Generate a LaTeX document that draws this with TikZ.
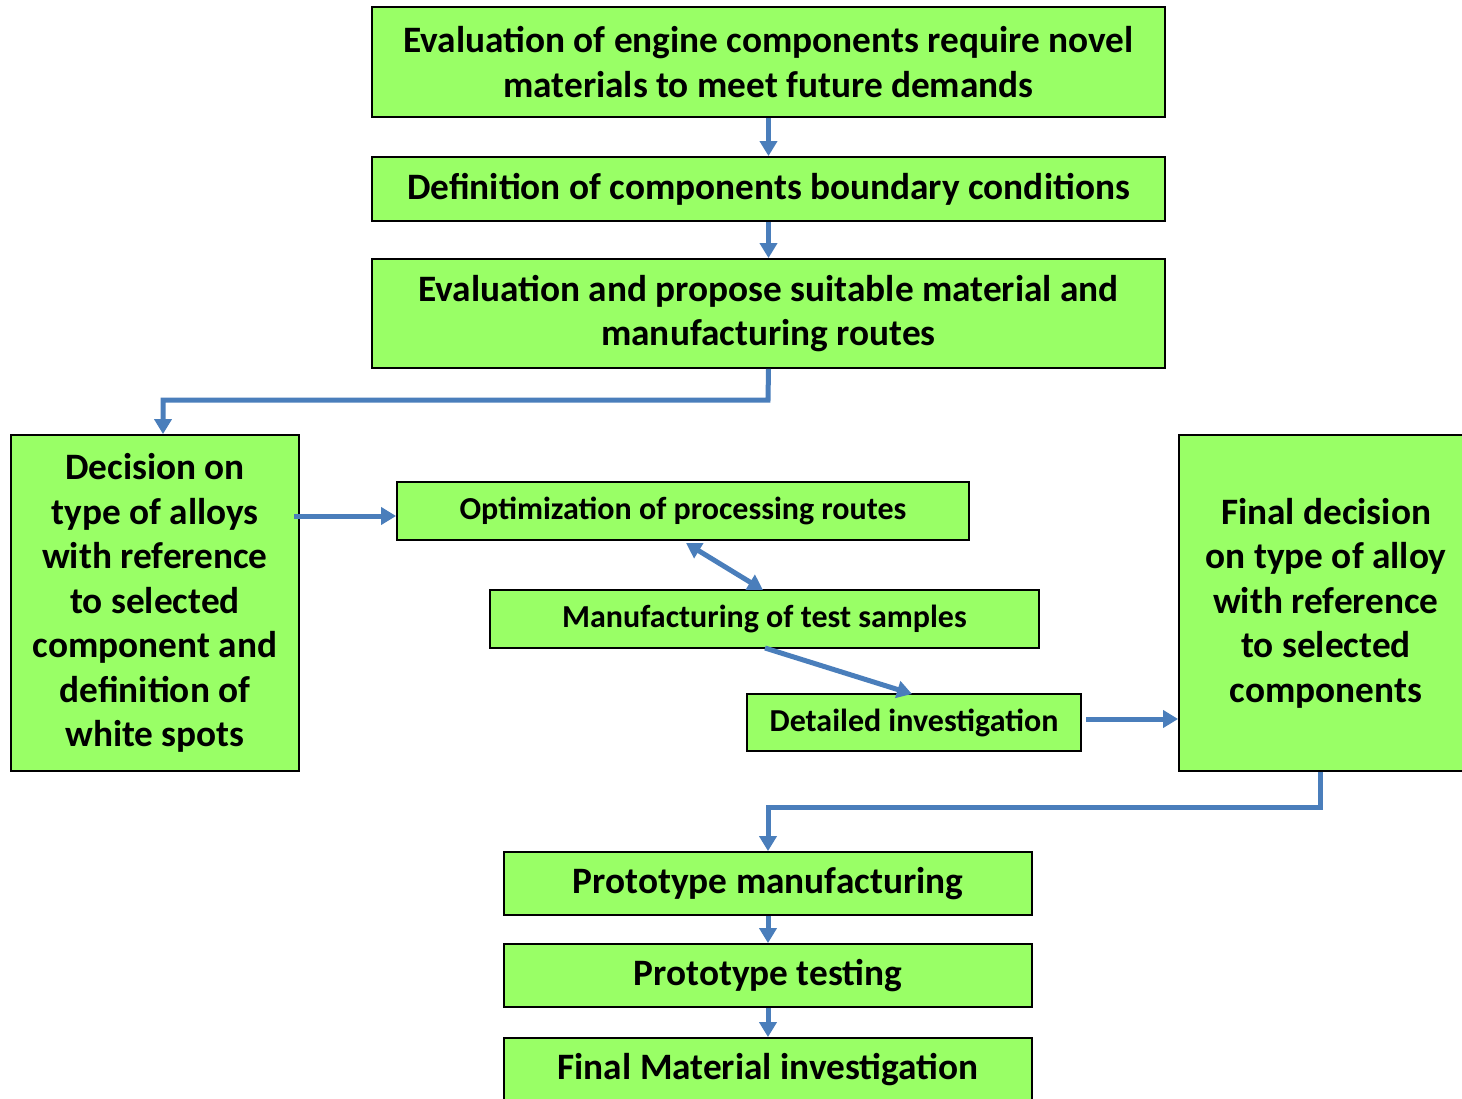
\documentclass[tikz,border=0pt]{standalone}
\usepackage{fontspec}
\setmainfont{Carlito}
\usetikzlibrary{arrows.meta}
\definecolor{boxgreen}{HTML}{99FF66}
\definecolor{arrblue}{HTML}{4A7EBB}
\begin{document}
\begin{tikzpicture}[x=1pt,y=-1pt,
  box/.style={draw=black,line width=1.8pt,fill=boxgreen,inner sep=0pt,align=center,font=\bfseries\fontsize{37.3}{44.5}\selectfont},
  sbox/.style={box,font=\bfseries\fontsize{32}{38}\selectfont},
  conn/.style={draw=arrblue,line width=5pt,-{Triangle[width=17pt,length=15pt]}},
  dconn/.style={draw=arrblue,line width=5pt,{Triangle[width=17pt,length=15pt]}-{Triangle[width=17pt,length=15pt]}}]
\useasboundingbox (0,0) rectangle (1462,1099);
\node[box,minimum width=793pt,minimum height=110pt] (b1) at (768.5,62) {Evaluation of engine components require novel\\materials to meet future demands};
\node[box,minimum width=793pt,minimum height=64pt] (b2) at (768.5,189) {Definition of components boundary conditions};
\node[box,minimum width=793pt,minimum height=109pt] (b3) at (768.5,313.5) {Evaluation and propose suitable material and\\manufacturing routes};
\node[box,minimum width=288pt,minimum height=336pt] (b4) at (155,603) {Decision on\\type of alloys\\with reference\\to selected\\component and\\definition of\\white spots};
\node[sbox,minimum width=572pt,minimum height=58pt] (b5) at (683,511) {Optimization of processing routes};
\node[sbox,minimum width=549pt,minimum height=58pt] (b6) at (764.5,619) {Manufacturing of test samples};
\node[sbox,minimum width=334pt,minimum height=57pt] (b7) at (914,722.5) {Detailed investigation};
\node[box,minimum width=294pt,minimum height=336pt] (b8) at (1326,603) {Final decision\\on type of alloy\\with reference\\to selected\\components};
\node[box,minimum width=528pt,minimum height=63pt] (b9) at (768,883.5) {Prototype manufacturing};
\node[box,minimum width=528pt,minimum height=63pt] (b10) at (768,975.5) {Prototype testing};
\node[box,minimum width=528pt,minimum height=64pt] (b11) at (768,1070) {Final Material investigation};
\coordinate (c1) at (768,400);
\coordinate (c2) at (163,400);
\coordinate (c3) at (1320,807);
\coordinate (c4) at (768,807);
\coordinate (a1) at (294,516);
\coordinate (a2) at (1086,719);
\draw[conn] (b1.south) -- (b2.north);
\draw[conn] (b2.south) -- (b3.north);
\draw[conn] (b3.south) -- (c1) -- (c2) -- (c2 |- b4.north);
\draw[conn] (a1) -- (a1 -| b5.west);
\draw[dconn] (686,543) -- (763,590);
\draw[conn] (765,648) -- (912,694);
\draw[conn] (a2) -- (a2 -| b8.west);
\draw[conn] (c3 |- b8.south) -- (c3) -- (c4) -- (b9.north);
\draw[conn] (b9.south) -- (b10.north);
\draw[conn] (b10.south) -- (b11.north);
\end{tikzpicture}
\end{document}
